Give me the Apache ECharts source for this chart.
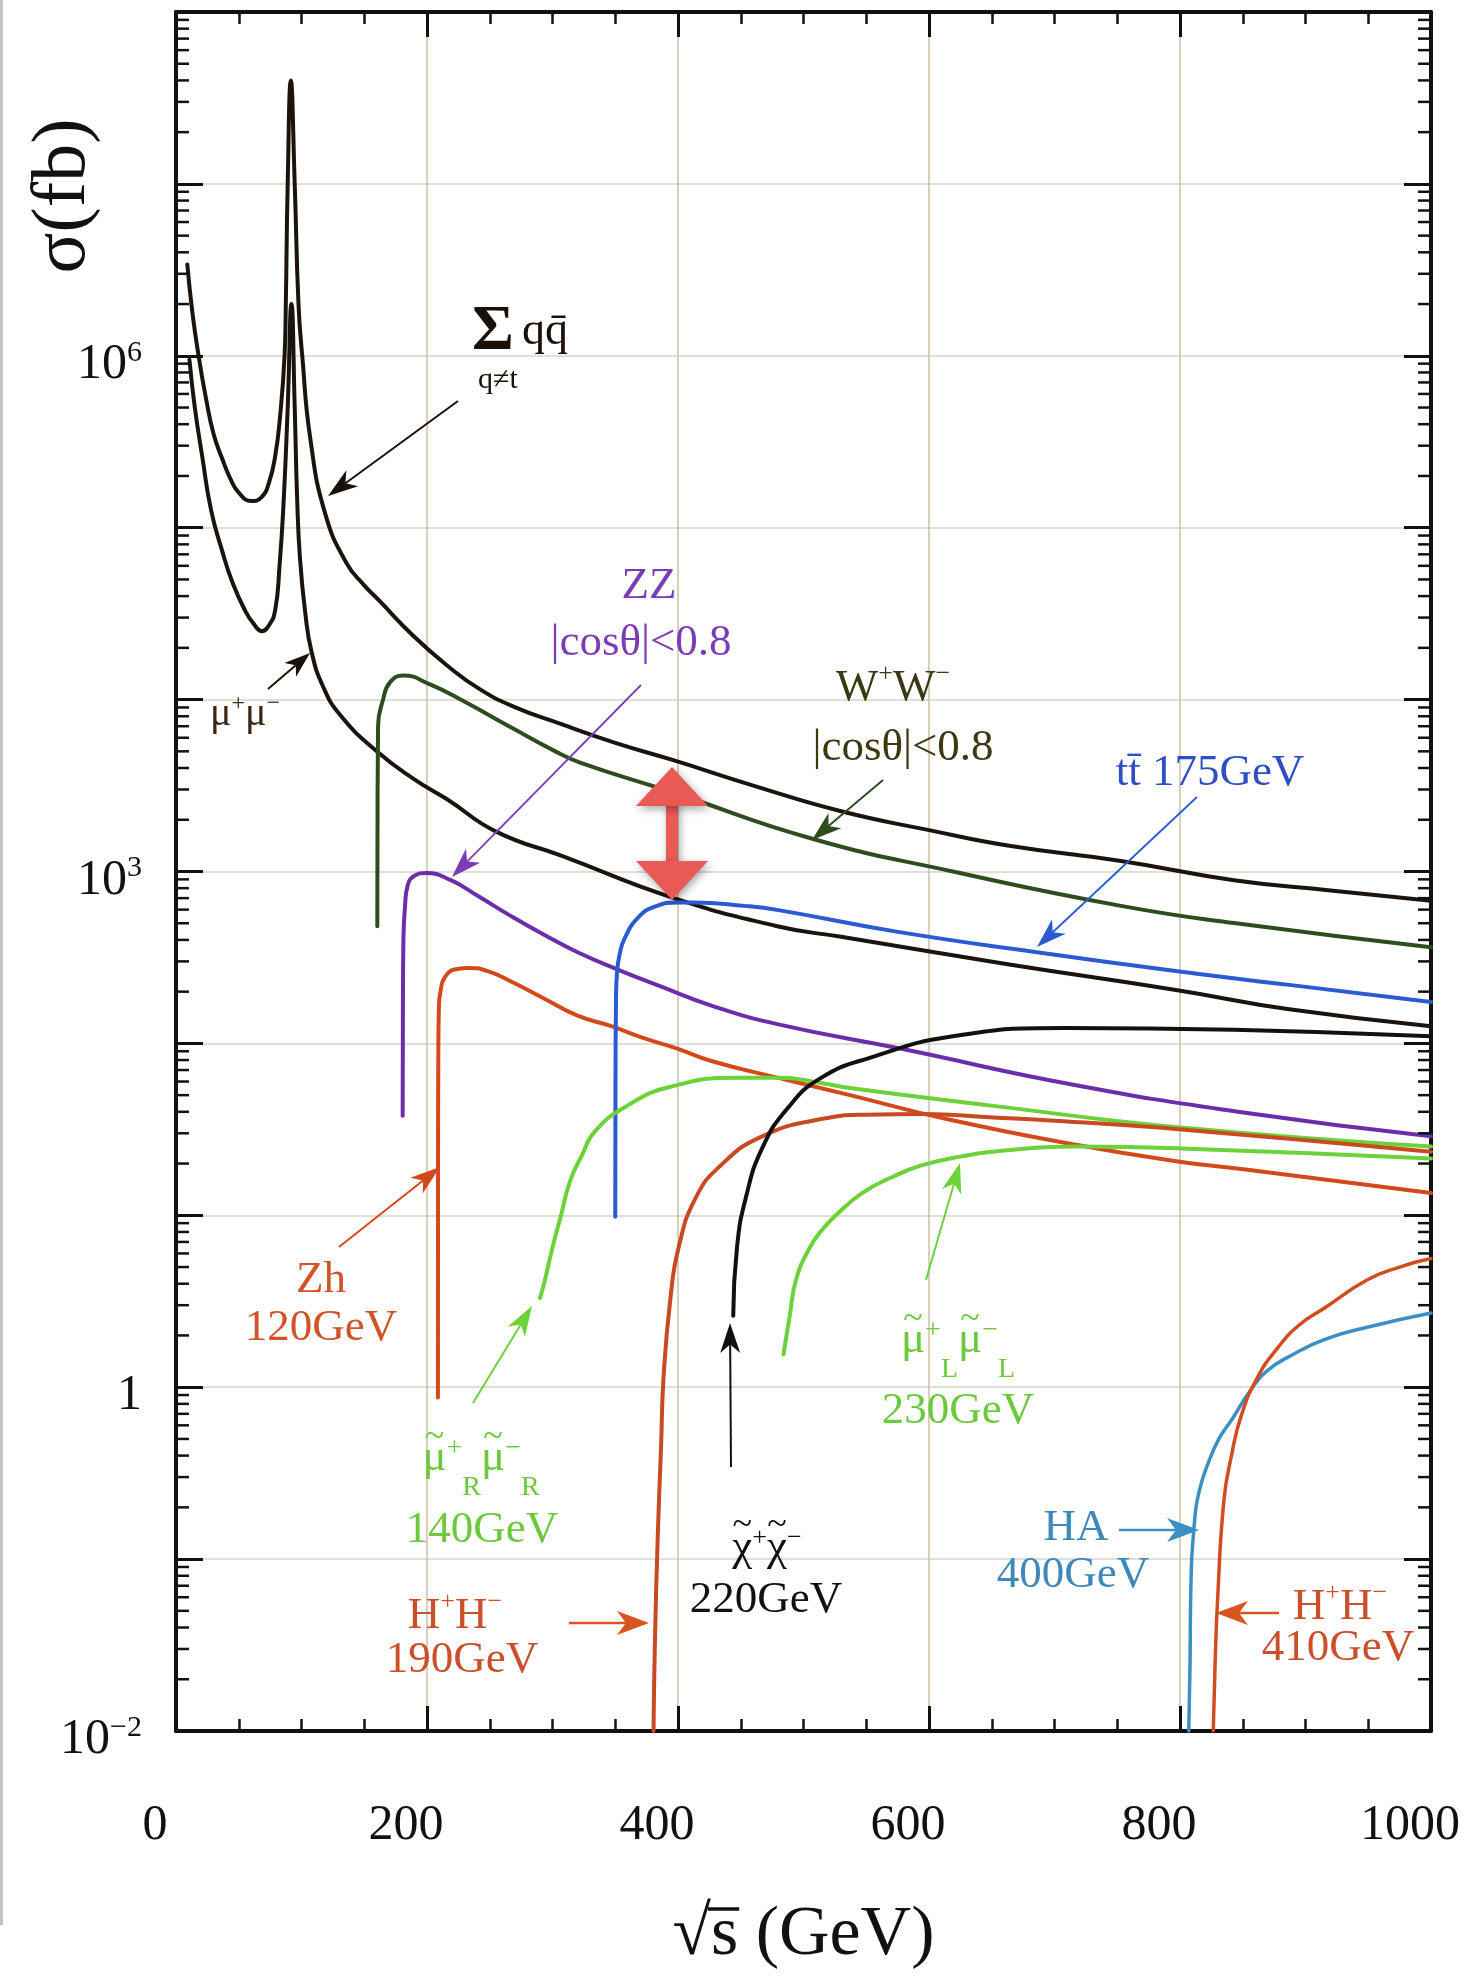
<!DOCTYPE html>
<html><head><meta charset="utf-8">
<script src="https://cdn.jsdelivr.net/npm/echarts@6/dist/echarts.min.js"></script>
<style>html,body{margin:0;padding:0;background:#fff}#c{width:1466px;height:1976px}</style>
</head><body><div id="c"></div>
<script>
// ---------- data ----------
const xTickLabels = ['0', '200', '400', '600', '800', '1000'];
const yLabelExponents = [-2, 0, 3, 6];
const ySupText = { '-2': '\u22122', '3': '3', '6': '6' };

const sumQQ = [[9,3.4e6],[13,1.8e6],[18,1.0e6],[24,5.6e5],[30,3.5e5],[37,2.5e5],[43,1.95e5],[50,1.6e5],[60,1.43e5],[68,1.5e5],[74,1.82e5],[79,2.6e5],[83,4.5e5],[86.5,1.0e6],[87.5,2.0e6],[89,1.0e7],[91.5,4.0e7],[94.6,1.0e7],[97.6,2.0e6],[100.6,1.0e6],[107,3.3e5],[119,1.2e5],[136,6.2e4],[150,4.62e4],[162,3.76e4],[189,2.35e4],[216,1.58e4],[242,1.15e4],[269,9.1e3],[306,7.24e3],[350,5.6e3],[395,4.47e3],[460,3.16e3],[530,2.24e3],[600,1.74e3],[664,1.41e3],[753,1.15e3],[843,890],[920,776],[1000,676]];
const muMu = [[10.7,9.5e5],[15,5.0e5],[21,2.57e5],[28,1.26e5],[36.6,7.4e4],[45,4.8e4],[55,3.3e4],[62,2.75e4],[68.5,2.5e4],[74,2.7e4],[79,3.3e4],[82.5,6.0e4],[85.5,1.3e5],[89,5.0e5],[92,2.0e6],[94.6,5.0e5],[96.5,1.5e5],[98.8,6.6e4],[103,3.2e4],[108,1.9e4],[117,1.2e4],[131,8.1e3],[160,5.0e3],[189,3.47e3],[216,2.63e3],[255.5,1.7e3],[308,1.23e3],[395,708],[480,479],[530,417],[664,288],[798,204],[887,158],[1000,126]];
const wPairs = [[160.4,480],[160.5,1200],[161,7.0e3],[165,1.0e4],[170.5,1.26e4],[181,1.38e4],[202,1.23e4],[229,9.8e3],[269,6.76e3],[300,5.1e3],[322,4.3e3],[395,2.9e3],[507,1.55e3],[619,1.0e3],[753,631],[843,501],[1000,363]];
const zPairs = [[180.6,38],[180.8,150],[181.2,400],[182.5,630],[184.6,830],[190,945],[199,980],[219,890],[240,725],[267,550],[293.6,427],[320,339],[352,269],[386.7,214],[426.6,166],[480,129],[578,93],[715,57.5],[849,39.8],[1000,28.8]];
const zhHiggs = [[208.7,0.87],[208.8,20],[209,80],[209.5,166],[211,205],[213.8,240],[221.8,269],[232.4,275],[248.4,263],[267,229],[293.6,182],[320,145],[346.8,126],[373.4,107],[400,93],[426.6,79],[479.8,63],[537,50],[614,36.3],[717,25.7],[801,20.4],[849,18.6],[1000,13.5]];
const topPairs = [[350,9.8],[350.2,60],[350.6,180],[351.5,263],[353.5,330],[357.4,407],[368,537],[381.4,624],[400,661],[413,661],[453,631],[480,596],[574,447],[686,339],[798,263],[887,219],[1000,174]];
const smuonR = [[290,3.3],[293.6,4.1],[300,6.5],[306.8,10],[314,15.8],[323.5,22.4],[334,30.9],[360,43.6],[394,56],[447,63.1],[480,63.1],[514,58.9],[537,55],[648,43.6],[801,32.4],[1000,25.1]];
const chargedH190 = [[380.5,0.01],[381.5,0.03],[384,0.145],[386.5,0.45],[388.5,1.15],[394,3.3],[400.5,6.5],[414,12.6],[434,19.5],[467,28.8],[514,36.3],[550,38.5],[597,38.9],[648,37.2],[700,35.5],[801,31.6],[1000,23.4]];
const charginos = [[444,2.6],[447,6.5],[454,12.6],[467,24.5],[487,41.7],[514,63],[554,83],[619,110],[708,123],[843,120],[1000,110]];
const smuonL = [[484,1.55],[489,2.6],[494,4.2],[504,6.3],[514,8.1],[527,10.2],[547,13.5],[570,16.6],[594,19.5],[627,22.1],[660,23.8],[717,25.1],[801,24.5],[1000,21.4]];
const higgsHA = [[807,0.01],[808,0.025],[808.5,0.06],[812,0.18],[816,0.26],[822,0.355],[831,0.5],[842,0.66],[855,0.93],[868.5,1.23],[890,1.55],[915.5,1.9],[950,2.24],[1000,2.7]];
const chargedH410 = [[826.5,0.01],[828,0.025],[830,0.059],[835,0.22],[841,0.4],[849,0.69],[862,1.15],[878,1.7],[895,2.3],[915.5,2.9],[949,4.2],[975,5.0],[1000,5.6]];

// ---------- chart ----------
const FONT = '"Liberation Serif", "DejaVu Serif", serif';
const chart = echarts.init(document.getElementById('c'), null, { renderer: 'canvas' });

function lineSeries(name, data, color, width) {
  return {
    name, type: 'line', data, xAxisIndex: 0, yAxisIndex: 0,
    showSymbol: false, symbol: 'none', smooth: 0.5,
    lineStyle: { color, width, join: 'round', cap: 'round' }, itemStyle: { color }, z: 3, silent: true, animation: false
  };
}

const axisLine = { show: true, onZero: false, lineStyle: { color: '#111', width: 4 } };
const xTick = { show: true, inside: true, length: 25, lineStyle: { color: '#111', width: 3 } };
const xMinor = { show: true, splitNumber: 4, length: 12, lineStyle: { color: '#111', width: 2.5 } };
const yTick = { show: true, inside: true, length: 27, lineStyle: { color: '#111', width: 3 } };

const option = {
  animation: false,
  backgroundColor: '#ffffff',
  grid: { left: 176, right: 35, top: 12, bottom: 243, containLabel: false },
  xAxis: [
    {
      type: 'value', min: 0, max: 1000, interval: 200, position: 'bottom',
      axisLine, axisTick: xTick, minorTick: xMinor,
      splitLine: { show: true, lineStyle: { color: '#cdbfa6', width: 1.5 } },
      axisLabel: {
        formatter: v => xTickLabels[Math.round(v / 200)],
        fontFamily: FONT, fontSize: 50, color: '#111', margin: 70, padding: [0, 42, 0, 0]
      },
      name: '\u221As (GeV)', nameLocation: 'middle', nameGap: 170,
      nameTextStyle: { fontFamily: FONT, fontSize: 70, color: '#111' }
    },
    {
      type: 'value', min: 0, max: 1000, interval: 200, position: 'top',
      axisLine, axisTick: xTick, minorTick: xMinor,
      splitLine: { show: false }, axisLabel: { show: false }
    }
  ],
  yAxis: [
    {
      type: 'log', logBase: 10, min: 0.01, max: 99999000, position: 'left',
      axisLine, axisTick: yTick,
      splitLine: { show: true, lineStyle: { color: '#e2ddd5', width: 2 } },
      axisLabel: {
        margin: 34, padding: [18, 0, 0, 0],
        formatter: function (v) {
          const e = Math.round(Math.log10(v));
          if (yLabelExponents.indexOf(e) < 0) return '';
          if (e === 0) return '{b|1}';
          return '{b|10}{s|' + ySupText[String(e)] + '}';
        },
        rich: {
          b: { fontFamily: FONT, fontSize: 50, color: '#111', lineHeight: 54 },
          s: { fontFamily: FONT, fontSize: 30, color: '#111', lineHeight: 32, verticalAlign: 'top' }
        }
      }
    },
    {
      type: 'log', logBase: 10, min: 0.01, max: 99999000, position: 'right',
      axisLine, axisTick: yTick, splitLine: { show: false }, axisLabel: { show: false }
    }
  ],
  series: [
    lineSeries('\u03A3 q q\u0304 (q\u2260t)', sumQQ, '#1c140c', 4),
    lineSeries('\u03BC\u207A\u03BC\u207B', muMu, '#1c140c', 4),
    lineSeries('W\u207AW\u207B |cos\u03B8|<0.8', wPairs, '#2e4d1f', 4),
    lineSeries('ZZ |cos\u03B8|<0.8', zPairs, '#6b2da8', 4),
    lineSeries('Zh 120GeV', zhHiggs, '#d24a1c', 4),
    lineSeries('t t\u0304 175GeV', topPairs, '#2a5bd0', 4),
    lineSeries('\u03BC\u0303R 140GeV', smuonR, '#6cd13a', 4),
    lineSeries('H\u207AH\u207B 190GeV', chargedH190, '#c84a22', 4),
    lineSeries('\u03C7\u0303\u207A\u03C7\u0303\u207B 220GeV', charginos, '#111111', 4),
    lineSeries('\u03BC\u0303L 230GeV', smuonL, '#6cd13a', 4),
    lineSeries('HA 400GeV', higgsHA, '#3b8fc4', 3.5),
    lineSeries('H\u207AH\u207B 410GeV', chargedH410, '#cf4d20', 3.5)
  ]
};
chart.setOption(option);

// ---------- annotations (layout only) ----------
const mctx = document.createElement('canvas').getContext('2d');
function textW(s, size, weight) { mctx.font = (weight || 'normal') + ' ' + size + 'px ' + FONT; return mctx.measureText(s).width; }

function txt(x, y, text, color, size, extra, align) {
  const a = align || 'center';
  const st = Object.assign({
    text, fill: color, fontSize: size, fontFamily: FONT,
    align: a, verticalAlign: 'middle', textAlign: a, textVerticalAlign: 'middle'
  }, extra || {});
  return { type: 'text', x, y, style: st, silent: true, z: 20 };
}
// label built from pieces: [text, kind('m' main,'p' sup,'r' sub), tilde?]
function pieces(cx, cy, parts, color, size, subSize, supDy, subDy, tildeDy) {
  const ws = parts.map(p => textW(p[0], p[1] === 'm' ? size : subSize));
  const total = ws.reduce((a, b) => a + b, 0);
  let x = cx - total / 2;
  const out = [];
  parts.forEach((p, i) => {
    const sz = p[1] === 'm' ? size : subSize;
    const y = p[1] === 'm' ? cy : (p[1] === 'p' ? cy + supDy : cy + subDy);
    out.push(txt(x, y, p[0], color, sz, null, 'left'));
    if (p[2]) out.push(txt(x + ws[i] / 2, cy + tildeDy, '~', color, Math.round(size * 0.8)));
    x += ws[i];
  });
  return out;
}
function arrow(x1, y1, x2, y2, color, w, hl, hw) {
  const dx = x2 - x1, dy = y2 - y1, L = Math.hypot(dx, dy);
  const ux = dx / L, uy = dy / L, px = -uy, py = ux;
  const bx = x2 - ux * hl, by = y2 - uy * hl;
  const nx = x2 - ux * hl * 0.72, ny = y2 - uy * hl * 0.72;
  return [
    { type: 'line', shape: { x1, y1, x2: nx, y2: ny }, style: { stroke: color, lineWidth: w }, silent: true, z: 19 },
    { type: 'polygon', shape: { points: [[x2, y2], [bx + px * hw / 2, by + py * hw / 2], [nx, ny], [bx - px * hw / 2, by - py * hw / 2]] },
      style: { fill: color }, silent: true, z: 19 }
  ];
}

const g = [];
// outer grey page edge
g.push({ type: 'rect', shape: { x: 0, y: 0, width: 3, height: 1925 }, style: { fill: '#c4c4c4' }, silent: true });

// log minor ticks on left and right axes
const xL = chart.convertToPixel({ xAxisIndex: 0 }, 0);
const xR = chart.convertToPixel({ xAxisIndex: 0 }, 1000);
for (let n = -2; n < 8; n++) {
  for (let k = 2; k < 10; k++) {
    const y = chart.convertToPixel({ yAxisIndex: 0 }, k * Math.pow(10, n));
    g.push({ type: 'line', shape: { x1: xL, y1: y, x2: xL + 13, y2: y }, style: { stroke: '#111', lineWidth: 2.5 }, silent: true, z: 5 });
    g.push({ type: 'line', shape: { x1: xR - 13, y1: y, x2: xR, y2: y }, style: { stroke: '#111', lineWidth: 2.5 }, silent: true, z: 5 });
  }
}

// vinculum over "s" in the x axis title
(function () {
  const fs = 70, full = '\u221As (GeV)';
  const W = textW(full, fs), w1 = textW('\u221A', fs), w2 = textW('s', fs);
  const cx = (xL + xR) / 2, left = cx - W / 2;
  const yTop = chart.convertToPixel({ yAxisIndex: 0 }, 0.01) + 170;
  g.push({ type: 'line', shape: { x1: left + w1 - 3, y1: yTop + 8, x2: left + w1 + w2 + 1, y2: yTop + 8 }, style: { stroke: '#111', lineWidth: 3.5 }, silent: true, z: 20 });
})();

// y axis title
g.push({ type: 'text', x: 64, y: 196, rotation: Math.PI / 2,
  style: { text: '\u03C3(fb)', fill: '#111', fontSize: 76, fontFamily: FONT, align: 'center', verticalAlign: 'middle', textAlign: 'center', textVerticalAlign: 'middle' }, silent: true });

// Σ qq̄
g.push(txt(493, 332, '\u03A3', '#1a1008', 64, { fontWeight: 'bold' }));
g.push(txt(545, 332, 'qq\u0304', '#1a1008', 46));
g.push(txt(498, 380, 'q\u2260t', '#1a1008', 30));
g.push(...arrow(458, 401, 328, 496, '#1a1008', 2, 30, 20));
// μ+μ-
g.push(...pieces(245, 714, [['\u03BC', 'm'], ['+', 'p'], ['\u03BC', 'm'], ['\u2212', 'p']], '#3a2612', 40, 24, -10, 0, 0));
g.push(...arrow(268, 689, 310, 653, '#1a1008', 2, 26, 18));
// ZZ
g.push(txt(649, 586, 'ZZ', '#7b3db5', 45));
g.push(txt(641, 643, '|cos\u03B8|<0.8', '#7b3db5', 45));
g.push(...arrow(641, 685, 452, 877, '#7b3db5', 1.8, 30, 20));
// W+W-
g.push(...pieces(893, 688, [['W', 'm'], ['+', 'p'], ['W', 'm'], ['\u2212', 'p']], '#3b3912', 45, 26, -14, 0, 0));
g.push(txt(903, 748, '|cos\u03B8|<0.8', '#3b3912', 45));
g.push(...arrow(883, 780, 812, 840, '#2e4d1f', 2, 30, 20));
// tt̄
g.push(txt(1210, 773, 'tt\u0304 175GeV', '#2d4fc2', 45));
g.push(...arrow(1197, 797, 1037, 947, '#2a5bd0', 1.8, 30, 20));
// Zh
g.push(txt(321, 1280, 'Zh', '#cf5429', 45));
g.push(txt(321, 1328, '120GeV', '#cf5429', 45));
g.push(...arrow(339, 1247, 440, 1167, '#d24a1c', 2, 30, 20));
// smuon R
g.push(...pieces(481, 1458, [['\u03BC', 'm', 1], ['+', 'p'], ['R', 'r'], ['\u03BC', 'm', 1], ['\u2212', 'p'], ['R', 'r']], '#6cc83c', 45, 28, -9, 30, -20));
g.push(txt(482, 1530, '140GeV', '#6cc83c', 45));
g.push(...arrow(473, 1403, 532, 1306, '#6cd13a', 2, 30, 20));
// H+H- 190
g.push(...pieces(455, 1616, [['H', 'm'], ['+', 'p'], ['H', 'm'], ['\u2212', 'p']], '#c9502a', 45, 26, -14, 0, 0));
g.push(txt(462, 1660, '190GeV', '#c9502a', 45));
g.push(...arrow(569, 1623, 649, 1623, '#d9541e', 2.5, 32, 24));
// charginos
g.push(...pieces(767, 1548, [['\u03C7', 'm', 1], ['+', 'p'], ['\u03C7', 'm', 1], ['\u2212', 'p']], '#111', 45, 26, -10, 0, -22));
g.push(txt(766, 1600, '220GeV', '#111', 45));
g.push(...arrow(731, 1467, 730, 1323, '#111', 2, 30, 20));
// smuon L
g.push(...pieces(958, 1340, [['\u03BC', 'm', 1], ['+', 'p'], ['L', 'r'], ['\u03BC', 'm', 1], ['\u2212', 'p'], ['L', 'r']], '#6cc83c', 45, 28, -9, 30, -20));
g.push(txt(958, 1411, '230GeV', '#6cc83c', 45));
g.push(...arrow(926, 1280, 960, 1163, '#6cd13a', 2, 30, 20));
// HA
g.push(txt(1076, 1528, 'HA', '#3f88ba', 45));
g.push(txt(1073, 1575, '400GeV', '#3f88ba', 45));
g.push(...arrow(1119, 1530, 1199, 1530, '#3b8fc4', 2.5, 32, 24));
// H+H- 410
g.push(...pieces(1340, 1607, [['H', 'm'], ['+', 'p'], ['H', 'm'], ['\u2212', 'p']], '#c9502a', 45, 26, -14, 0, 0));
g.push(txt(1338, 1648, '410GeV', '#c9502a', 45));
g.push(...arrow(1279, 1613, 1216, 1613, '#d9541e', 2.5, 32, 24));

// red double arrow
const shadow = { shadowBlur: 8, shadowColor: 'rgba(0,0,0,0.35)', shadowOffsetX: 2, shadowOffsetY: 3 };
const RC = '#e95a55';
g.push({ type: 'rect', shape: { x: 666, y: 800, width: 12, height: 66 }, style: Object.assign({ fill: RC }, shadow), silent: true, z: 30 });
g.push({ type: 'polygon', shape: { points: [[672, 767], [636, 806], [708, 806]] }, style: Object.assign({ fill: RC }, shadow), silent: true, z: 31 });
g.push({ type: 'polygon', shape: { points: [[672, 900], [636, 861], [708, 861]] }, style: Object.assign({ fill: RC }, shadow), silent: true, z: 31 });

chart.setOption({ graphic: { elements: g } });
</script>
</body></html>
